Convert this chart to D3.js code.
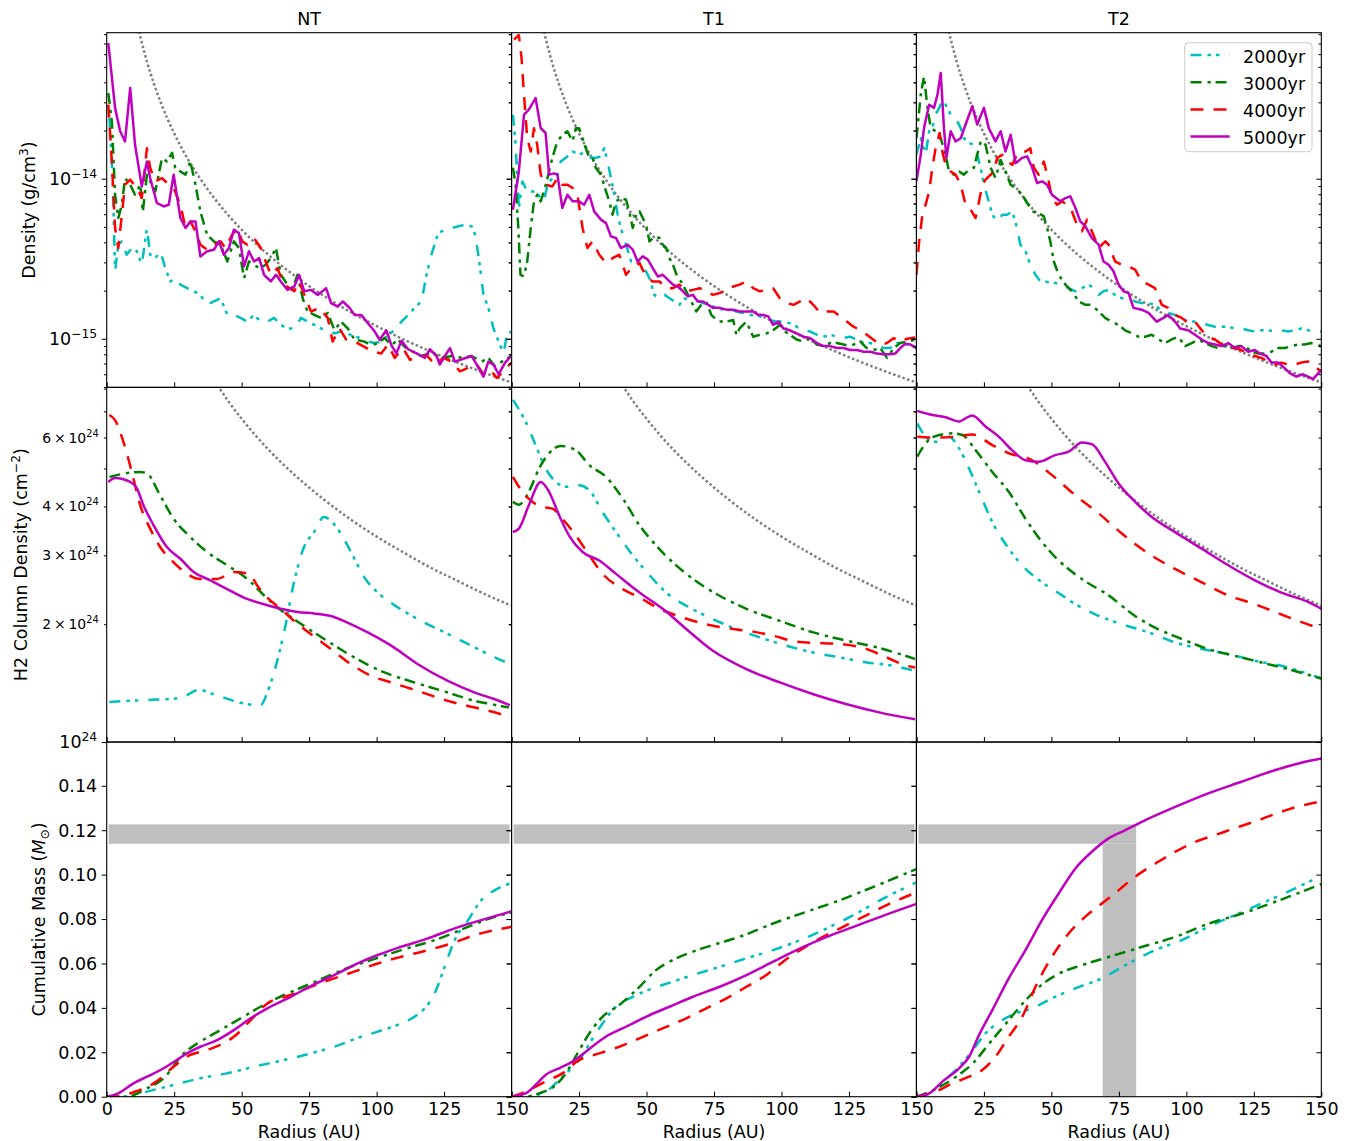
<!DOCTYPE html>
<html><head><meta charset="utf-8">
<script src="https://cdn.jsdelivr.net/npm/d3@7"></script>
<style>
body{margin:0;background:#fff}
svg{display:block}
text{font-family:"DejaVu Sans",sans-serif;fill:#000}
</style>
</head><body>
<svg id="chart" width="1348" height="1141"></svg>
<script>
// ---------------- DATA ----------------
const panelNames = ["NT", "T1", "T2"];
const seriesNames = ["2000yr", "3000yr", "4000yr", "5000yr"];
const radiusTicks = [0, 25, 50, 75, 100, 125, 150];
const massTicks = [0, 0.02, 0.04, 0.06, 0.08, 0.10, 0.12, 0.14];
const densMajorTicks = [1e-15, 1e-14];
const colMajorTicks = [1e24];
const colLabelledMinor = [2e24, 3e24, 4e24, 6e24];

// density, units of 1e-15 g/cm^3 : [radius AU, density]
const densUnit = 1e-15;
const densNT_2000 = [[1.0,23.9],[2.2,10.1],[3.1,2.64],[4.3,3.87],[5.6,4.06],[7.4,3.35],[9.3,3.69],[11.2,3.52],[13.0,2.9],[14.9,4.92],[16.1,3.35],[18.0,3.19],[19.9,3.52],[21.7,2.76],[23.6,2.28],[25.4,2.39],[27.3,2.18],[29.8,2.07],[32.3,1.98],[34.7,1.88],[37.2,1.63],[39.7,1.71],[42.2,1.79],[44.7,1.41],[47.1,1.41],[49.6,1.35],[52.1,1.28],[54.6,1.41],[57.1,1.28],[59.6,1.28],[62.0,1.35],[64.5,1.22],[67.0,1.16],[69.5,1.16],[72.0,1.35],[74.4,1.28],[76.9,1.22],[79.4,1.16],[81.9,1.13],[84.4,1.08],[86.8,1.11],[89.3,1.08],[91.8,1.03],[94.3,1.01],[96.8,0.96],[99.3,0.94],[101.7,0.96],[104.2,1.06],[106.7,1.13],[109.2,1.28],[111.7,1.41],[114.1,1.56],[116.6,1.71],[118.5,2.51],[120.3,3.35],[122.8,4.57],[125.3,4.8],[127.8,4.92],[130.3,5.04],[132.8,5.16],[135.2,5.04],[136.5,4.47],[137.7,3.35],[139.6,1.88],[141.4,1.56],[143.3,1.16],[145.2,0.96],[147.0,0.81],[148.3,1.06],[149.9,1.11]];
const densNT_3000 = [[0.6,34.3],[1.9,22.8],[3.1,7.94],[4.3,5.68],[5.6,6.88],[6.8,10.1],[8.7,9.17],[10.5,7.94],[12.4,9.17],[13.4,6.25],[14.9,10.6],[16.7,9.17],[18.0,8.33],[20.5,13.5],[22.3,12.8],[24.2,14.5],[25.4,11.7],[27.3,11.1],[29.2,10.6],[31.0,12.8],[32.9,9.17],[34.7,6.25],[37.2,4.47],[39.7,4.06],[42.2,3.87],[44.7,3.04],[47.1,4.06],[49.0,3.69],[50.9,2.39],[52.7,3.04],[54.6,2.9],[56.5,2.76],[58.9,2.9],[60.8,3.19],[62.7,3.69],[64.5,2.51],[67.0,2.18],[68.9,2.07],[70.7,2.51],[72.6,1.79],[74.4,1.48],[76.9,1.41],[79.4,1.35],[81.9,1.45],[84.4,1.13],[86.8,1.28],[89.3,1.16],[91.8,0.99],[95.5,0.96],[98.0,0.91],[100.5,0.94],[103.0,1.01],[105.5,0.91],[107.9,0.99],[110.4,0.89],[113.5,0.83],[116.6,0.78],[120.3,0.82],[124.1,0.76],[127.8,0.78],[131.5,0.76],[135.2,0.78],[139.0,0.72],[141.4,0.76],[143.9,0.67],[146.4,0.72],[149.9,0.78]];
const densNT_4000 = [[0.6,29.0],[1.9,12.8],[3.1,4.92],[4.3,3.69],[5.6,5.95],[6.8,9.17],[8.7,9.86],[11.2,8.74],[13.0,7.57],[14.9,15.5],[16.1,11.7],[18.0,9.62],[20.5,10.1],[23.0,9.17],[24.8,8.74],[27.3,6.88],[29.2,4.92],[31.0,5.41],[32.9,4.69],[34.7,3.87],[37.2,3.6],[39.7,3.87],[42.2,4.06],[44.0,3.69],[46.5,4.47],[48.4,4.92],[50.2,4.06],[52.1,3.87],[54.6,4.26],[57.1,3.69],[58.9,3.04],[60.8,2.51],[63.3,2.76],[65.1,2.28],[67.6,2.07],[69.5,1.98],[71.3,2.28],[73.2,1.88],[75.7,1.48],[78.8,1.56],[81.9,1.35],[83.7,0.96],[86.2,1.16],[88.7,0.99],[91.8,0.96],[95.5,0.89],[98.6,0.83],[101.7,0.81],[104.2,0.92],[106.7,0.76],[109.8,0.875],[112.3,0.74],[115.4,0.76],[118.5,0.79],[121.6,0.69],[124.7,0.76],[127.8,0.72],[130.9,0.625],[134.0,0.66],[137.1,0.69],[139.6,0.6],[142.1,0.64],[144.5,0.57],[147.0,0.625],[149.9,0.71]];
const densNT_5000 = [[0.6,70.4],[3.1,27.7],[5.0,19.8],[6.8,17.1],[8.7,36.9],[10.5,16.3],[13.0,8.95],[14.9,12.8],[16.1,10.1],[18.6,7.05],[21.1,6.71],[23.0,6.88],[24.8,10.6],[27.3,5.68],[29.2,4.92],[31.0,5.41],[32.9,5.41],[34.7,3.27],[37.2,3.52],[39.7,3.6],[41.6,4.06],[43.4,3.35],[45.3,3.69],[47.1,4.8],[49.0,4.57],[50.9,2.83],[52.7,3.52],[54.6,3.04],[56.5,3.19],[58.3,2.51],[60.8,2.28],[62.7,2.51],[64.5,2.28],[67.0,2.02],[69.5,2.12],[71.3,2.51],[73.2,1.98],[75.7,2.02],[78.2,1.88],[81.3,2.07],[83.1,1.67],[85.6,1.59],[87.5,1.71],[90.0,1.56],[91.8,1.41],[94.3,1.41],[96.8,1.25],[99.3,1.11],[101.1,0.986],[103.6,1.13],[105.5,0.91],[107.3,0.81],[109.2,0.97],[111.7,0.86],[114.8,0.81],[117.9,0.76],[119.7,0.86],[122.2,0.78],[123.4,0.69],[125.3,0.78],[127.2,0.875],[129.0,0.72],[132.1,0.75],[135.2,0.78],[137.1,0.69],[139.6,0.58],[141.4,0.72],[143.3,0.69],[145.2,0.6],[147.6,0.71],[149.9,0.78]];

const densT1_2000 = [[0.5,25.1],[1.5,16.3],[2.1,10.1],[2.7,6.56],[4.0,9.62],[5.2,8.74],[7.1,8.33],[8.9,8.33],[10.8,7.57],[12.0,7.22],[13.3,9.17],[15.1,10.1],[17.0,10.6],[18.2,12.8],[20.1,13.5],[22.6,14.8],[25.0,14.1],[27.5,14.8],[29.4,13.5],[31.2,13.5],[33.1,13.8],[34.3,15.5],[35.6,12.8],[36.8,10.1],[38.1,7.94],[39.3,5.95],[40.5,4.92],[42.4,3.87],[44.3,3.04],[46.1,2.97],[47.4,3.04],[48.6,2.76],[49.8,2.64],[51.1,2.39],[52.9,1.88],[54.8,1.79],[56.7,1.88],[58.5,1.79],[60.4,1.71],[62.2,1.63],[64.1,1.79],[65.9,1.71],[68.4,1.75],[70.9,1.67],[73.4,1.63],[75.9,1.56],[78.3,1.52],[80.8,1.52],[83.3,1.48],[85.8,1.45],[88.3,1.41],[90.7,1.41],[93.2,1.35],[95.7,1.31],[98.2,1.28],[100.7,1.28],[103.1,1.25],[105.6,1.19],[108.1,1.13],[110.6,1.11],[113.1,1.06],[115.5,1.03],[118.0,1.06],[120.5,1.03],[123.0,1.01],[125.4,1.03],[127.9,0.99],[130.4,0.94],[132.9,0.94],[135.4,0.92],[137.8,0.875],[140.3,0.875],[142.8,0.94],[145.3,0.94],[147.8,0.90],[150.0,0.875]];
const densT1_3000 = [[0.5,11.7],[1.5,9.17],[2.5,4.92],[3.3,2.51],[4.6,2.45],[5.8,3.04],[7.1,4.92],[8.3,7.22],[9.5,7.94],[10.8,7.22],[12.0,8.33],[13.3,10.1],[15.1,13.5],[17.0,17.1],[18.8,18.8],[20.7,19.8],[22.6,17.1],[23.8,20.7],[25.0,20.7],[26.3,17.9],[27.5,15.5],[28.8,13.5],[30.0,13.5],[31.2,11.7],[33.1,10.6],[35.0,8.33],[36.2,7.22],[37.4,5.95],[38.7,7.22],[40.5,7.57],[42.4,7.39],[43.6,6.25],[44.9,4.92],[46.1,5.95],[47.4,6.25],[48.6,5.68],[49.8,5.16],[51.1,4.06],[52.9,4.36],[54.8,4.26],[56.0,3.87],[57.3,3.69],[58.5,3.19],[59.8,2.90],[61.6,2.39],[62.8,2.28],[64.7,1.98],[66.6,1.71],[68.4,1.48],[70.3,1.63],[72.1,1.71],[74.0,1.41],[76.5,1.28],[79.6,1.28],[82.1,1.31],[83.3,1.06],[84.5,1.16],[87.0,1.28],[89.5,1.03],[92.0,1.06],[94.5,1.08],[96.9,1.13],[99.4,1.22],[101.3,1.11],[103.1,1.06],[105.6,0.99],[108.1,0.96],[110.6,1.01],[113.1,0.92],[115.5,0.90],[118.0,0.94],[120.5,0.94],[123.0,0.92],[125.4,0.90],[129.2,0.96],[131.6,0.875],[134.1,0.85],[136.6,0.875],[139.1,0.76],[141.6,0.875],[144.0,0.94],[146.5,0.96],[149.6,0.986]];
const densT1_4000 = [[0.9,74],[2.7,79],[3.7,56.8],[4.6,33.5],[5.8,17.9],[7.1,14.8],[8.3,20.7],[9.5,16.3],[10.8,10.6],[12.6,9.17],[15.1,8.95],[17.0,10.1],[18.8,9.17],[20.7,9.17],[22.6,8.74],[24.4,7.94],[26.3,4.92],[28.1,3.69],[30.0,4.06],[32.5,3.35],[35.0,2.97],[37.4,3.19],[39.9,3.35],[42.4,2.51],[44.9,2.83],[47.4,2.97],[49.8,2.45],[52.3,2.28],[54.8,2.28],[57.3,2.07],[59.8,2.07],[62.2,2.18],[64.7,1.98],[67.2,2.02],[69.7,2.07],[72.1,1.98],[74.6,1.88],[77.1,1.93],[79.6,2.02],[82.1,2.12],[84.5,2.18],[87.0,2.28],[89.5,2.07],[92.0,1.98],[94.5,2.02],[96.9,2.07],[99.4,1.79],[101.9,1.67],[104.4,1.63],[106.9,1.71],[109.3,1.79],[111.8,1.63],[114.3,1.45],[116.8,1.48],[119.3,1.48],[121.7,1.38],[124.2,1.28],[126.7,1.19],[129.2,1.13],[131.6,1.06],[134.1,0.986],[136.6,0.917],[139.1,0.94],[141.6,1.01],[144.0,0.96],[146.5,1.0],[149.6,1.02]];
const densT1_5000 = [[0.5,6.4],[2.7,11.1],[4.6,25.1],[6.4,27.0],[8.9,31.9],[10.8,20.7],[12.6,19.3],[13.9,10.6],[15.7,10.8],[17.0,10.6],[18.8,6.56],[20.7,7.94],[22.6,7.22],[25.0,7.22],[26.9,6.88],[28.8,7.94],[30.6,6.25],[33.1,5.55],[35.0,5.28],[36.8,4.36],[38.7,4.26],[40.5,3.69],[43.0,3.87],[44.9,3.6],[46.7,3.04],[48.6,3.27],[50.5,3.12],[52.3,2.76],[54.2,2.45],[56.0,2.51],[57.9,2.34],[59.8,2.18],[61.6,2.12],[63.5,1.98],[65.3,1.84],[67.2,1.88],[69.0,1.71],[70.9,1.71],[72.8,1.63],[74.6,1.56],[77.1,1.56],[79.6,1.52],[82.1,1.52],[84.5,1.48],[87.0,1.48],[89.5,1.48],[91.4,1.41],[93.2,1.41],[95.1,1.38],[96.9,1.22],[98.8,1.28],[100.7,1.16],[103.1,1.13],[105.6,1.08],[108.1,1.03],[110.6,1.01],[113.1,0.94],[115.5,0.90],[118.0,0.90],[120.5,0.875],[123.0,0.875],[125.4,0.85],[127.9,0.85],[130.4,0.83],[132.9,0.83],[135.4,0.81],[137.8,0.80],[140.3,0.80],[142.2,0.81],[144.0,0.875],[145.9,0.93],[147.8,0.92],[150.0,0.875]];

const densT2_2000 = [[0,14.1],[1.6,17.9],[3.4,14.1],[4.7,19.8],[5.9,20.7],[7.1,25.1],[8.4,27.7],[9.6,30.4],[10.8,29.0],[12.7,25.1],[14.5,23.9],[16.4,20.7],[17.6,17.9],[19.5,16.7],[21.3,16.3],[22.5,14.1],[23.8,11.7],[25.0,9.17],[26.8,7.22],[28.1,5.95],[29.9,5.41],[31.8,5.95],[33.6,5.95],[35.5,6.25],[37.3,4.92],[38.5,3.87],[40.4,3.52],[42.2,2.90],[44.1,2.51],[45.9,2.28],[47.8,2.28],[49.6,2.23],[51.5,2.23],[53.9,2.18],[56.4,2.07],[58.9,1.98],[61.3,2.07],[63.8,2.18],[65.6,2.07],[67.5,1.88],[69.3,1.98],[71.2,2.02],[73.6,1.88],[76.1,1.79],[78.6,1.79],[81.0,1.71],[83.5,1.67],[86.0,1.67],[88.4,1.63],[90.9,1.48],[93.3,1.45],[95.8,1.41],[98.3,1.35],[100.7,1.28],[103.2,1.28],[105.7,1.25],[108.1,1.22],[110.6,1.19],[113.1,1.19],[115.5,1.19],[118.0,1.16],[120.4,1.16],[122.9,1.13],[125.4,1.11],[127.8,1.13],[130.3,1.13],[132.8,1.11],[135.2,1.13],[137.7,1.11],[140.1,1.13],[142.6,1.16],[145.1,1.13],[150.0,1.11]];
const densT2_3000 = [[0,17.9],[1.6,33.5],[2.8,43.6],[4.1,27.7],[5.3,20.7],[7.1,19.8],[9.0,17.9],[10.8,14.1],[12.1,11.1],[13.9,10.6],[15.8,11.1],[17.6,10.6],[19.5,11.4],[21.3,11.7],[22.5,14.1],[23.8,17.1],[25.6,16.3],[27.5,11.7],[29.3,10.1],[31.2,13.1],[33.0,11.1],[34.9,9.17],[36.7,8.74],[39.2,7.94],[41.0,7.05],[42.9,6.25],[45.3,6.1],[47.2,5.82],[48.4,4.92],[49.6,4.06],[50.9,3.04],[52.7,2.51],[55.2,2.18],[57.6,1.98],[60.1,1.71],[62.6,1.63],[65.0,1.63],[67.5,1.48],[69.9,1.35],[72.4,1.28],[74.9,1.22],[77.3,1.13],[79.8,1.08],[82.3,1.03],[84.7,1.03],[87.2,1.06],[89.7,0.99],[92.1,0.94],[94.6,0.99],[97.0,1.03],[99.5,0.90],[102.0,0.94],[104.4,0.99],[106.9,0.94],[109.4,0.90],[111.8,0.875],[114.3,0.90],[116.7,0.875],[119.2,0.90],[121.7,0.90],[124.1,0.83],[126.6,0.81],[129.1,0.81],[131.5,0.83],[134.0,0.875],[136.5,0.875],[138.9,0.90],[141.4,0.92],[143.8,0.92],[146.3,0.94],[150.0,0.90]];
const densT2_4000 = [[0,2.51],[1.0,4.06],[2.2,5.95],[3.4,6.88],[4.7,8.33],[5.9,11.7],[7.1,15.5],[8.6,19.3],[9.6,14.8],[10.8,12.2],[12.7,11.1],[14.5,10.6],[16.4,9.17],[18.2,6.88],[20.1,6.4],[21.9,5.68],[23.2,7.22],[24.4,9.17],[25.6,9.86],[27.5,10.6],[28.7,11.1],[29.9,13.5],[31.8,14.1],[33.6,12.8],[35.5,12.2],[36.7,13.5],[38.5,14.8],[40.4,14.8],[42.2,15.5],[43.5,11.7],[45.3,10.6],[47.2,12.8],[49.0,9.62],[50.2,7.57],[52.1,6.88],[53.9,7.22],[55.8,6.88],[57.6,6.25],[59.5,5.16],[61.3,4.69],[63.2,5.55],[65.0,4.69],[67.5,3.69],[70.0,4.06],[71.2,3.87],[73.6,3.04],[76.1,2.90],[78.6,2.83],[81.0,2.70],[83.5,2.28],[86.0,2.18],[88.4,2.07],[90.9,1.63],[93.3,1.56],[95.8,1.41],[98.3,1.35],[100.7,1.25],[103.2,1.28],[105.7,1.13],[108.1,1.03],[110.6,0.99],[113.1,0.92],[115.5,0.875],[118.0,0.875],[120.4,0.85],[122.9,0.81],[125.4,0.78],[127.8,0.76],[130.3,0.72],[132.8,0.69],[135.2,0.71],[137.7,0.69],[140.1,0.69],[142.6,0.71],[145.1,0.72],[147.5,0.67],[150.0,0.625]];
const densT2_5000 = [[0,9.62],[1.6,14.1],[2.8,20.7],[4.7,29.0],[6.5,27.7],[7.8,33.5],[9.0,45.8],[10.2,20.7],[11.1,13.5],[12.7,19.8],[14.5,17.1],[16.4,17.9],[18.2,21.8],[20.7,28.4],[22.5,21.8],[25.0,27.7],[26.8,20.7],[29.3,17.1],[31.2,19.8],[33.0,14.8],[34.9,18.8],[36.7,12.5],[39.2,13.5],[41.0,13.8],[42.9,11.7],[44.7,9.4],[46.6,9.62],[48.4,9.17],[50.2,7.94],[53.3,7.22],[55.2,7.57],[57.0,7.76],[58.9,6.56],[60.7,5.41],[62.6,5.04],[65.0,4.26],[67.5,3.87],[69.3,3.04],[71.2,2.9],[73.0,2.64],[74.9,2.18],[76.7,1.98],[78.6,1.93],[80.4,1.56],[83.5,1.52],[86.0,1.45],[89.0,1.28],[91.5,1.35],[93.3,1.41],[95.8,1.28],[97.7,1.16],[100.7,1.13],[103.2,1.06],[105.7,0.99],[108.1,0.94],[110.6,0.92],[113.1,0.90],[115.5,0.94],[118.0,0.875],[120.4,0.90],[122.9,0.83],[125.4,0.85],[127.2,0.81],[129.7,0.78],[131.5,0.71],[134.0,0.71],[135.8,0.67],[138.3,0.61],[140.8,0.58],[143.2,0.6],[145.1,0.58],[146.9,0.56],[150.0,0.64]];

// grey dotted reference
const refDensR = [12,13,14,15,17.5,20,22.5,25,30,35,40,45,50,60,70,80,90,100,110,120,130,140,150];
const refDens = [83.3,71.0,61.2,53.3,39.2,30.0,23.7,19.2,13.3,9.8,7.5,5.93,4.8,3.33,2.45,1.875,1.48,1.2,0.99,0.833,0.71,0.612,0.533];

// H2 column density, units of 1e24 cm^-2 : [radius AU, N]
const colUnit = 1e24;
const colNT_2000 = [[1,1.266],[14.9,1.281],[24.8,1.29],[29.1,1.312],[34.1,1.36],[39.7,1.325],[47.1,1.274],[52.1,1.249],[57,1.242],[59.5,1.338],[62,1.506],[65.7,1.906],[69.4,2.562],[73.1,3.15],[76.8,3.44],[80.5,3.76],[85.5,3.51],[90.5,3.06],[95.4,2.64],[101.6,2.37],[107.8,2.21],[116.5,2.04],[125.2,1.906],[135.1,1.763],[143.8,1.645],[148.1,1.597]];
const colNT_3000 = [[1,4.76],[12.4,4.90],[14.9,4.86],[19.8,4.27],[24.8,3.72],[31,3.34],[37.2,3.06],[44.6,2.83],[52.1,2.61],[58.3,2.37],[63.2,2.21],[69.4,2.06],[76.8,1.906],[85.5,1.746],[91.7,1.645],[102.9,1.506],[114,1.42],[126.4,1.338],[136.4,1.274],[142.6,1.249],[149,1.225]];
const colNT_4000 = [[1,6.85],[3.1,6.65],[6.2,5.85],[9.3,4.90],[12.4,4.03],[16.1,3.51],[19.8,3.15],[24.8,2.88],[29.8,2.69],[34.7,2.61],[40.9,2.61],[47.1,2.72],[52.7,2.69],[55.8,2.51],[59.5,2.34],[64.5,2.19],[69.4,2.04],[75.6,1.888],[83.1,1.728],[90.5,1.581],[98,1.476],[105.4,1.42],[115.3,1.351],[126.4,1.274],[136.4,1.225],[146.3,1.177],[149,1.161]];
const colNT_5000 = [[0.6,4.62],[3.1,4.73],[8.7,4.62],[11.2,4.45],[13.6,4.03],[17.4,3.58],[22.3,3.15],[27.3,2.94],[32.2,2.72],[38.4,2.59],[44.6,2.46],[50.8,2.34],[58.3,2.25],[64.5,2.19],[70.7,2.15],[76.8,2.13],[83,2.10],[89.2,2.02],[96.7,1.906],[105.4,1.763],[115.3,1.581],[126.4,1.433],[136.4,1.338],[143.8,1.286],[149.4,1.242]];
const colT1_2000 = [[0.5,7.49],[5.2,6.59],[8.9,5.74],[12.6,5.0],[16.4,4.62],[20.1,4.49],[25,4.53],[28.8,4.40],[33.7,3.87],[38.7,3.44],[44.9,3.0],[51.1,2.67],[57.3,2.41],[64.7,2.23],[72.1,2.10],[82,1.96],[91.9,1.852],[101.8,1.763],[111.7,1.694],[121.7,1.645],[131.6,1.597],[141.6,1.566],[149.5,1.52]];
const colT1_3000 = [[0.5,4.11],[2.7,4.04],[6.4,4.36],[10.2,5.0],[13.9,5.47],[18.2,5.71],[23.8,5.57],[28.8,5.10],[35,4.76],[41.2,4.19],[47.4,3.58],[53.5,3.18],[59.7,2.88],[67.2,2.61],[75.9,2.39],[87,2.19],[99.4,2.04],[111.8,1.906],[124.2,1.815],[135.3,1.746],[149.5,1.63]];
const colT1_4000 = [[0.5,4.76],[4,4.36],[7.7,4.11],[11.4,3.99],[15.1,3.95],[18.8,3.72],[23.8,3.37],[28.8,3.0],[33.7,2.69],[39.9,2.49],[47.4,2.34],[54.8,2.19],[63.5,2.08],[72.1,2.0],[82,1.945],[89.5,1.915],[96.9,1.87],[105.6,1.805],[114.3,1.79],[121.7,1.78],[131.6,1.728],[139,1.645],[146.5,1.566],[149.5,1.551]];
const colT1_5000 = [[0.5,3.44],[2.7,3.51],[6.4,4.03],[10.8,4.62],[13.9,4.36],[17.6,3.80],[21.3,3.37],[26.3,3.06],[32.5,2.91],[38.7,2.69],[47.4,2.41],[56,2.19],[64.7,1.945],[74.6,1.711],[87,1.536],[99.4,1.42],[111.8,1.325],[124.2,1.249],[136.6,1.189],[149.5,1.143]];
const colT2_2000 = [[0.3,6.52],[3.4,6.03],[7.1,5.85],[12,6.03],[15.8,5.63],[19.5,5.0],[23.2,4.36],[28.1,3.65],[34.2,3.12],[40.4,2.77],[46.6,2.56],[54,2.37],[58.9,2.25],[66.3,2.12],[76.1,2.0],[86,1.906],[95.8,1.798],[105.7,1.728],[115.5,1.679],[125.4,1.613],[135.2,1.566],[150,1.453]];
const colT2_3000 = [[0.3,5.36],[3.4,5.80],[8.4,6.09],[13.3,6.15],[17,6.09],[21.9,5.57],[28.1,4.90],[34.2,4.36],[40.4,3.72],[46.6,3.24],[52.7,2.91],[61.3,2.61],[71.2,2.37],[81,2.10],[88.4,1.96],[98.3,1.834],[108.1,1.728],[118,1.661],[127.8,1.597],[137.7,1.535],[150,1.453]];
const colT2_4000 = [[0.3,6.03],[7.1,6.0],[14.5,6.03],[20.7,6.11],[28.1,5.74],[34.2,5.47],[42.9,5.25],[50.2,4.81],[58.9,4.27],[67.5,3.84],[76.1,3.41],[86,3.03],[95.8,2.77],[105.7,2.56],[115.5,2.37],[125.4,2.25],[132.8,2.15],[141.4,2.04],[150,1.945]];
const colT2_5000 = [[0.3,7.02],[4.7,6.88],[10.8,6.76],[15.8,6.59],[18.2,6.72],[20.7,6.83],[25.6,6.40],[30.5,6.03],[35.4,5.57],[40.4,5.25],[45.3,5.20],[51.4,5.41],[56.4,5.52],[61.3,5.83],[65,5.77],[69.9,5.20],[74.9,4.58],[81,4.11],[87.2,3.76],[95.8,3.44],[105.7,3.12],[115.5,2.83],[125.4,2.59],[135.2,2.41],[145.1,2.28],[150,2.19]];

const refColR = [40,45,50,55,60,70,80,90,100,110,120,130,140,150];
const refCol = [8.38,7.44,6.7,6.09,5.58,4.79,4.19,3.72,3.35,3.05,2.79,2.58,2.39,2.23];

// cumulative mass, M_sun : [radius AU, M]
const massNT_2000 = [[0,0],[7.4,0],[14.9,0.0023],[24.8,0.0053],[34.7,0.0083],[44.6,0.0105],[54.5,0.0135],[65.7,0.0165],[75.6,0.0195],[84.3,0.0225],[94.2,0.027],[100.4,0.0293],[109.1,0.033],[114,0.036],[117.8,0.0398],[121.5,0.0465],[125.2,0.0585],[128.9,0.0705],[133.9,0.0795],[138.8,0.0885],[143.8,0.093],[150,0.0962]];
const massNT_3000 = [[0,0],[7,0],[14.9,0.0037],[21.1,0.0083],[28.5,0.0195],[34.7,0.0248],[42.1,0.030],[49.6,0.0353],[57,0.0405],[65.7,0.0458],[74.4,0.0503],[83,0.0548],[90.5,0.0585],[97.9,0.0615],[109.1,0.066],[121.5,0.0705],[133.9,0.0765],[140,0.0795],[150,0.083]];
const massNT_4000 = [[0,0],[2.5,0],[9.9,0.002],[17.4,0.006],[24.8,0.0135],[29.7,0.018],[37.2,0.021],[42.1,0.0233],[47.1,0.027],[54.5,0.036],[59.5,0.042],[68.2,0.0458],[75.6,0.0495],[84.3,0.0533],[91.7,0.0563],[100.4,0.06],[109.1,0.063],[119,0.066],[127.7,0.069],[136.4,0.0728],[143.8,0.075],[150,0.0765]];
const massNT_5000 = [[0,0],[4.3,0.0015],[9.9,0.006],[14.9,0.009],[21.1,0.0128],[26,0.0165],[29.7,0.0195],[34.7,0.0225],[40.9,0.0255],[47.1,0.030],[53.3,0.0353],[59.5,0.0398],[68.2,0.045],[75.6,0.0498],[84.3,0.0548],[93,0.060],[100.4,0.0638],[109.1,0.0675],[119,0.0713],[128.9,0.0758],[138.8,0.0795],[150,0.0835]];
const massT1_2000 = [[0,0],[5.2,0],[12.6,0.0023],[18.8,0.009],[25,0.0165],[31.2,0.0285],[38.7,0.0405],[44.9,0.045],[52.3,0.0488],[59.7,0.0518],[67.2,0.0548],[77.1,0.0585],[87,0.0623],[96.9,0.066],[106.9,0.0705],[116.8,0.0758],[126.7,0.0818],[136.6,0.0885],[150,0.0965]];
const massT1_3000 = [[0,0],[5.2,0],[10.2,0.0015],[16.4,0.0053],[20.1,0.0105],[24.4,0.0195],[28.8,0.0285],[33.7,0.036],[39.9,0.0413],[47.4,0.0495],[53.5,0.057],[59.7,0.0615],[67.2,0.0653],[74.6,0.0683],[84.5,0.072],[96.9,0.078],[109.3,0.0833],[121.7,0.0885],[134.1,0.0945],[150,0.1025]];
const massT1_4000 = [[0,0],[5.2,0.0023],[12.6,0.0068],[18.8,0.0105],[25,0.0165],[32.5,0.0195],[39.9,0.0225],[47.4,0.0263],[56,0.0308],[64.7,0.0353],[72.1,0.0398],[79.6,0.0443],[87,0.0495],[94.4,0.0548],[100.6,0.0608],[106.9,0.066],[114.3,0.0713],[121.7,0.0758],[131.6,0.0818],[139,0.0863],[150,0.092]];
const massT1_5000 = [[0,0],[5.2,0.0015],[8.9,0.0053],[12.6,0.0098],[17.6,0.0128],[22.6,0.0158],[27.5,0.0203],[34.9,0.027],[42.4,0.0315],[49.8,0.036],[58.5,0.0405],[67.2,0.045],[77.1,0.0495],[87,0.0548],[96.9,0.0608],[106.9,0.0668],[116.8,0.072],[126.7,0.0765],[136.6,0.081],[150,0.0868]];
const massT2_2000 = [[0,0],[4.7,0.0015],[9.6,0.0065],[15.8,0.0135],[20.9,0.021],[25.6,0.0285],[31.8,0.0345],[36.7,0.0375],[42.9,0.0398],[50.2,0.0443],[58.9,0.0488],[68.7,0.0533],[78.6,0.06],[88.4,0.066],[98.3,0.0705],[108.1,0.0765],[118,0.0818],[127.8,0.087],[138.9,0.093],[150,0.0995]];
const massT2_3000 = [[0,0],[7.1,0.0035],[14.7,0.009],[20.9,0.015],[27,0.024],[33.2,0.033],[39.4,0.042],[45.5,0.0495],[52.9,0.0555],[61.5,0.0593],[71.4,0.063],[83.7,0.0675],[96,0.072],[108.4,0.078],[120.7,0.0825],[133,0.0878],[150,0.0957]];
const massT2_4000 = [[0,0],[7.1,0.0023],[13.3,0.006],[19.5,0.009],[24.4,0.012],[29.3,0.018],[34.2,0.027],[39.2,0.036],[44.1,0.0495],[50.2,0.063],[56.4,0.0735],[62.5,0.081],[68.7,0.087],[74.9,0.093],[81,0.099],[89.6,0.1058],[101.9,0.114],[114.2,0.1193],[126.6,0.1245],[138.9,0.1298],[150,0.133]];
const massT2_5000 = [[0,0],[4.7,0.0015],[9.6,0.0068],[15.8,0.0128],[19.5,0.018],[23.2,0.0278],[28.1,0.039],[34.2,0.0533],[40.4,0.066],[46.5,0.0795],[52.7,0.0915],[58.9,0.1028],[65,0.1103],[71.2,0.1163],[77.4,0.12],[83.5,0.1238],[95.9,0.1305],[108.1,0.1366],[120.4,0.1418],[132.7,0.147],[142.6,0.1504],[150,0.1523]];

// grey observational bands
const massBand = [0.1139, 0.1226];
const bandRadius = [0.75, 149.25];
const bandRadiusT2 = [0.75, 81.4];
const radiusBandT2 = [69.0, 81.4];

// ---------------- TABLES BUILT FROM DATA ----------------
const densData = [[densNT_2000,densNT_3000,densNT_4000,densNT_5000],[densT1_2000,densT1_3000,densT1_4000,densT1_5000],[densT2_2000,densT2_3000,densT2_4000,densT2_5000]];
const colData = [[colNT_2000,colNT_3000,colNT_4000,colNT_5000],[colT1_2000,colT1_3000,colT1_4000,colT1_5000],[colT2_2000,colT2_3000,colT2_4000,colT2_5000]];
const massData = [[massNT_2000,massNT_3000,massNT_4000,massNT_5000],[massT1_2000,massT1_3000,massT1_4000,massT1_5000],[massT2_2000,massT2_3000,massT2_4000,massT2_5000]];

// ---------------- STYLE / LAYOUT ----------------
const seriesColors = ["#00bfbf", "#008000", "#ff0000", "#bf00bf"];
const seriesDash = ["11,6,3.5,5,3.5,10", "11,6,3.3,4.7", "13,10", null];
const LW = 2.5;
const FS = 17.5;
const L0 = 106.7, PW = 404.87, T0 = 32.7, PH = 354.67;

const svg = d3.select("#chart");
svg.append("rect").attr("width", 1348).attr("height", 1141).attr("fill", "#fff");
const defs = svg.append("defs");

function logMinors(lo, hi) {
  const out = [];
  for (let e = Math.floor(Math.log10(lo)); e <= Math.ceil(Math.log10(hi)); e++) {
    for (let m = 2; m <= 9; m++) { const v = m * Math.pow(10, e); if (v >= lo && v <= hi) out.push(v); }
  }
  return out;
}

const rowDefs = [
  { domain: [4.97e-16, 8.17e-14], log: true, unit: densUnit, data: densData, ref: [refDensR, refDens], majors: densMajorTicks, minors: logMinors(4.97e-16, 8.17e-14), curve: d3.curveLinear },
  { domain: [1e24, 8.06e24], log: true, unit: colUnit, data: colData, ref: [refColR, refCol], majors: colMajorTicks, minors: logMinors(1e24, 8.06e24), curve: d3.curveMonotoneX },
  { domain: [0, 0.1597], log: false, unit: 1, data: massData, ref: null, majors: massTicks, minors: [], curve: d3.curveMonotoneX }
];

function styleAxis(g) {
  g.select(".domain").remove();
  g.selectAll(".tick line").attr("stroke", "#000").attr("stroke-width", 1);
}

for (let r = 0; r < 3; r++) {
  const rd = rowDefs[r];
  const y0 = T0 + r * PH;
  for (let c = 0; c < 3; c++) {
    const x0 = L0 + c * PW;
    const xs = d3.scaleLinear().domain([0, 150]).range([x0, x0 + PW]);
    const ys = (rd.log ? d3.scaleLog() : d3.scaleLinear()).domain(rd.domain).range([y0 + PH, y0]);
    const cid = `clip${r}${c}`;
    defs.append("clipPath").attr("id", cid).append("rect").attr("x", x0).attr("y", y0).attr("width", PW).attr("height", PH);
    const g = svg.append("g");
    const plot = g.append("g").attr("clip-path", `url(#${cid})`);

    // grey bands
    if (r === 2) {
      const hb = c === 2 ? bandRadiusT2 : bandRadius;
      plot.append("rect").attr("x", xs(hb[0])).attr("width", xs(hb[1]) - xs(hb[0]))
        .attr("y", ys(massBand[1])).attr("height", ys(massBand[0]) - ys(massBand[1])).attr("fill", "#bfbfbf");
      if (c === 2) {
        plot.append("rect").attr("x", xs(radiusBandT2[0])).attr("width", xs(radiusBandT2[1]) - xs(radiusBandT2[0]))
          .attr("y", ys(massBand[0])).attr("height", ys(0) - ys(massBand[0])).attr("fill", "#bfbfbf");
      }
    }
    // reference dotted
    if (rd.ref) {
      const pts = rd.ref[0].map((rr, i) => [rr, rd.ref[1][i]]);
      plot.append("path").datum(pts)
        .attr("d", d3.line().x(d => xs(d[0])).y(d => ys(d[1] * rd.unit)).curve(d3.curveMonotoneX))
        .attr("fill", "none").attr("stroke", "#7f7f7f").attr("stroke-width", 2.5).attr("stroke-dasharray", "2.5,2.4");
    }
    // series
    rd.data[c].forEach((ser, s) => {
      const p = plot.append("path").datum(ser)
        .attr("d", d3.line().x(d => xs(d[0])).y(d => ys(d[1] * rd.unit)).curve(rd.curve))
        .attr("fill", "none").attr("stroke", seriesColors[s]).attr("stroke-width", LW)
        .attr("stroke-linejoin", "round");
      if (seriesDash[s]) p.attr("stroke-dasharray", seriesDash[s]);
    });

    // spines
    g.append("rect").attr("x", x0).attr("y", y0).attr("width", PW).attr("height", PH)
      .attr("fill", "none").attr("stroke", "#000").attr("stroke-width", 1.1);

    // left ticks (outward), right ticks (inward)
    g.append("g").attr("transform", `translate(${x0},0)`)
      .call(d3.axisLeft(ys).tickValues(rd.majors).tickSize(5).tickFormat("")).call(styleAxis);
    g.append("g").attr("transform", `translate(${x0 + PW},0)`)
      .call(d3.axisRight(ys).tickValues(rd.majors).tickSize(-5).tickFormat("")).call(styleAxis);
    if (rd.minors.length) {
      g.append("g").attr("transform", `translate(${x0},0)`)
        .call(d3.axisLeft(ys).tickValues(rd.minors).tickSize(2.8).tickFormat("")).call(styleAxis);
      g.append("g").attr("transform", `translate(${x0 + PW},0)`)
        .call(d3.axisRight(ys).tickValues(rd.minors).tickSize(-2.8).tickFormat("")).call(styleAxis);
    }
    // bottom ticks (inward)
    const bx = g.append("g").attr("transform", `translate(0,${y0 + PH})`)
      .call(d3.axisBottom(xs).tickValues(radiusTicks).tickSize(-5).tickPadding(5.4)
        .tickFormat(d => (r === 2 && !(c > 0 && d === 0)) ? String(d) : ""))
      .call(styleAxis);
    bx.attr("font-size", FS).attr("font-family", "DejaVu Sans");
    bx.selectAll("text").attr("fill", "#000");

    // y tick labels (first column only)
    if (c === 0) {
      const lx = x0 - 9.5;
      if (r === 0) {
        rd.majors.forEach(v => {
          const t = g.append("text").attr("x", lx).attr("y", ys(v) + 6.3).attr("text-anchor", "end").attr("font-size", FS);
          t.append("tspan").text("10");
          t.append("tspan").attr("dy", -7.5).attr("font-size", 12.3).text("\u2212" + Math.round(-Math.log10(v)));
        });
      } else if (r === 1) {
        const t = g.append("text").attr("x", lx).attr("y", ys(1e24) + 6.3).attr("text-anchor", "end").attr("font-size", FS);
        t.append("tspan").text("10");
        t.append("tspan").attr("dy", -7.5).attr("font-size", 12.3).text("24");
        colLabelledMinor.forEach(v => {
          const m = Math.round(v / 1e24);
          const tt = g.append("text").attr("x", lx + 1.5).attr("y", ys(v) + 5).attr("text-anchor", "end").attr("font-size", 14);
          tt.append("tspan").text(m + "\u2009\u00d7\u200910");
          tt.append("tspan").attr("dy", -6).attr("font-size", 9.8).text("24");
        });
      } else {
        rd.majors.forEach(v => {
          g.append("text").attr("x", lx).attr("y", ys(v) + 6.3).attr("text-anchor", "end").attr("font-size", FS)
            .text(d3.format(".2f")(v));
        });
      }
    }
    // titles
    if (r === 0) {
      g.append("text").attr("x", x0 + PW / 2).attr("y", 25).attr("text-anchor", "middle").attr("font-size", FS).text(panelNames[c]);
    }
    if (r === 2) {
      g.append("text").attr("x", x0 + PW / 2).attr("y", 1138).attr("text-anchor", "middle").attr("font-size", FS).text("Radius (AU)");
    }
  }
}

// y axis labels
function ylabel(bx, cy) {
  return svg.append("text").attr("transform", `translate(${bx},${cy}) rotate(-90)`).attr("text-anchor", "middle").attr("font-size", FS);
}
{
  const t = ylabel(35, T0 + PH / 2);
  t.append("tspan").text("Density (g/cm");
  t.append("tspan").attr("dy", -7).attr("font-size", 12.3).text("3");
  t.append("tspan").attr("dy", 7).text(")");
  const t2 = ylabel(27, T0 + PH * 1.5);
  t2.append("tspan").text("H2 Column Density (cm");
  t2.append("tspan").attr("dy", -7).attr("font-size", 12.3).text("\u22122");
  t2.append("tspan").attr("dy", 7).text(")");
  const t3 = ylabel(45, T0 + PH * 2.5);
  t3.append("tspan").text("Cumulative Mass (");
  t3.append("tspan").attr("font-style", "italic").text("M");
  t3.append("tspan").attr("dy", 4).attr("font-size", 12.3).text("\u2299");
  t3.append("tspan").attr("dy", -4).text(")");
}

// legend
{
  const lg = svg.append("g");
  lg.append("rect").attr("x", 1184.7).attr("y", 42.7).attr("width", 127.3).attr("height", 109).attr("rx", 4)
    .attr("fill", "#fff").attr("fill-opacity", 0.8).attr("stroke", "#cccccc").attr("stroke-width", 1);
  seriesNames.forEach((name, i) => {
    const yy = 55 + i * 27.2;
    const ln = lg.append("line").attr("x1", 1190.5).attr("x2", 1229.7).attr("y1", yy).attr("y2", yy)
      .attr("stroke", seriesColors[i]).attr("stroke-width", LW);
    if (seriesDash[i]) ln.attr("stroke-dasharray", seriesDash[i]);
    lg.append("text").attr("x", 1243).attr("y", yy + 7.8).attr("font-size", FS).text(name);
  });
}
</script>
</body></html>
